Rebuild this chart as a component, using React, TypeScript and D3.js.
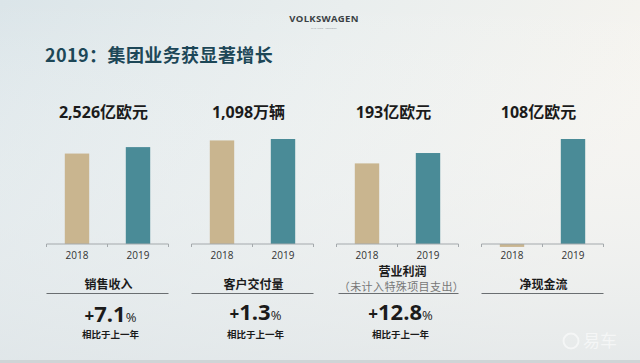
import React from "react";
import * as d3 from "d3";

// ---- data ----
const years = ["2018", "2019"];
const panelKeys = ["sales", "deliveries", "opresult", "cashflow"];
const headlines = ["2,526亿欧元", "1,098万辆", "193亿欧元", "108亿欧元"];
const salesValues = [235.8, 252.6];
const deliveryValues = [1083, 1098];
const opResultValues = [17.1, 19.3];
const cashFlowValues = [-0.3, 10.8];
const axisMax = [365, 1464, 29.7, 14.4];
const labels = ["销售收入", "客户交付量", "营业利润", "净现金流"];
const subLabels = ["", "", "（未计入特殊项目支出）", ""];
const growthNumbers = ["7.1", "1.3", "12.8", ""];
const growthNote = "相比于上一年";
const title = "2019：集团业务获显著增长";

const seriesValues = [salesValues, deliveryValues, opResultValues, cashFlowValues];
const barColors = ["#c9b58f", "#4a8b97"];

const W = 640;
const H = 363;
const FONT = "'Open Sans', 'Noto Sans CJK SC', sans-serif";
const CJK = "'Noto Sans CJK SC', 'Open Sans', sans-serif";

export default function App() {
  const outer = d3.scalePoint<string>().domain(panelKeys).range([107.5, 542.5]);
  const half = 61;
  const baseY = 244;
  const barAreaH = 140;

  return (
    <svg
      width={W}
      height={H}
      style={{ position: "absolute", left: 0, top: 0, display: "block" }}
    >
      <defs>
        <linearGradient id="bg" x1="0" y1="0" x2="1" y2="0.3">
          <stop offset="0" stopColor="#dbe5e9" />
          <stop offset="0.5" stopColor="#e9eeee" />
          <stop offset="1" stopColor="#f6f4ef" />
        </linearGradient>
        <linearGradient id="bg2" x1="0" y1="0" x2="0" y2="1">
          <stop offset="0" stopColor="#ffffff" stopOpacity="0" />
          <stop offset="1" stopColor="#dfe5e8" stopOpacity="0.7" />
        </linearGradient>
      </defs>
      <rect x={0} y={0} width={W} height={H} fill="url(#bg)" />
      <rect x={0} y={0} width={W} height={H} fill="url(#bg2)" />
      <rect x={0} y={360} width={W} height={3} fill="#cfd4d6" />

      {/* logo */}
      <text
        x={324}
        y={22}
        textAnchor="middle"
        fontFamily="'Open Sans', sans-serif"
        fontWeight={700}
        fontSize={9.5}
        fill="#3a3f44"
        letterSpacing={0.3}
      >
        VOLKSWAGEN
      </text>
      <text
        x={324}
        y={29}
        textAnchor="middle"
        fontFamily="'Open Sans', sans-serif"
        fontSize={2.5}
        fill="#8a9095"
      >
        DAS AUTO · CONCERN
      </text>

      {/* title */}
      <text
        x={45}
        y={62}
        fontFamily={CJK}
        fontWeight={700}
        fontSize={18}
        fill="#1d4757"
        letterSpacing={0.4}
      >
        {title}
      </text>

      {panelKeys.map((k, i) => {
        const cx = outer(k) as number;
        const xb = d3
          .scaleBand<string>()
          .domain(years)
          .range([cx - half, cx + half])
          .paddingInner(0.6)
          .paddingOuter(0.3);
        const y = d3
          .scaleLinear()
          .domain([0, axisMax[i]])
          .range([baseY, baseY - barAreaH]);
        const vals = seriesValues[i];
        const growth = growthNumbers[i];
        const gy = i === 0 ? 322 : 320;
        return (
          <g key={k}>
            <text
              x={cx - 4}
              y={118}
              textAnchor="middle"
              fontFamily={FONT}
              fontWeight={700}
              fontSize={16}
              fill="#1b1b1b"
            >
              {headlines[i]}
            </text>
            {vals.map((v, j) => (
              <rect
                key={j}
                x={xb(years[j])}
                width={xb.bandwidth()}
                y={Math.min(y(v), y(0))}
                height={Math.abs(y(v) - y(0))}
                fill={barColors[j]}
              />
            ))}
            <line
              x1={cx - half}
              x2={cx + half}
              y1={baseY}
              y2={baseY}
              stroke="#a4a9ac"
              strokeWidth={1}
            />
            {[cx - half, cx, cx + half].map((tx, t) => (
              <line
                key={t}
                x1={tx}
                x2={tx}
                y1={baseY}
                y2={baseY + 3}
                stroke="#a4a9ac"
                strokeWidth={1}
              />
            ))}
            {years.map((yr) => (
              <text
                key={yr}
                x={(xb(yr) as number) + xb.bandwidth() / 2}
                y={259}
                textAnchor="middle"
                fontFamily={FONT}
                fontSize={10}
                fill="#333"
              >
                {yr}
              </text>
            ))}

            {/* bottom labels */}
            {subLabels[i] ? (
              <g>
                <text
                  x={cx + 5}
                  y={275.5}
                  textAnchor="middle"
                  fontFamily={CJK}
                  fontWeight={700}
                  fontSize={12}
                  fill="#1b1b1b"
                >
                  {labels[i]}
                </text>
                <text
                  x={cx + 4}
                  y={291}
                  textAnchor="middle"
                  fontFamily={CJK}
                  fontSize={11}
                  fill="#777"
                  letterSpacing={0.4}
                >
                  {subLabels[i]}
                </text>
                <line
                  x1={cx - 59}
                  x2={cx + 61}
                  y1={293.5}
                  y2={293.5}
                  stroke="#6a6e71"
                  strokeWidth={1}
                />
              </g>
            ) : (
              <g>
                <text
                  x={cx + 1}
                  y={289}
                  textAnchor="middle"
                  fontFamily={CJK}
                  fontWeight={700}
                  fontSize={12}
                  fill="#1b1b1b"
                >
                  {labels[i]}
                </text>
                <line
                  x1={cx - 61}
                  x2={cx + 61}
                  y1={293.5}
                  y2={293.5}
                  stroke="#6a6e71"
                  strokeWidth={1}
                />
              </g>
            )}

            {growth && (
              <g>
                <text
                  x={cx + 3}
                  y={gy}
                  textAnchor="middle"
                  fontFamily={FONT}
                  fontWeight={700}
                  fill="#1b1b1b"
                >
                  <tspan fontSize={17}>+</tspan>
                  <tspan fontSize={22}>{growth}</tspan>
                  <tspan fontSize={13} fontWeight={400}>%</tspan>
                </text>
                <text
                  x={cx + 3}
                  y={338}
                  textAnchor="middle"
                  fontFamily={CJK}
                  fontWeight={700}
                  fontSize={9.5}
                  fill="#1b1b1b"
                >
                  {growthNote}
                </text>
              </g>
            )}
          </g>
        );
      })}

      {/* watermark */}
      <g opacity={0.55}>
        <circle cx={571} cy={341} r={7.5} fill="none" stroke="#ffffff" strokeWidth={2} />
        <text
          x={583}
          y={347}
          fontFamily={CJK}
          fontSize={17}
          fill="#ffffff"
        >
          易车
        </text>
      </g>
    </svg>
  );
}
